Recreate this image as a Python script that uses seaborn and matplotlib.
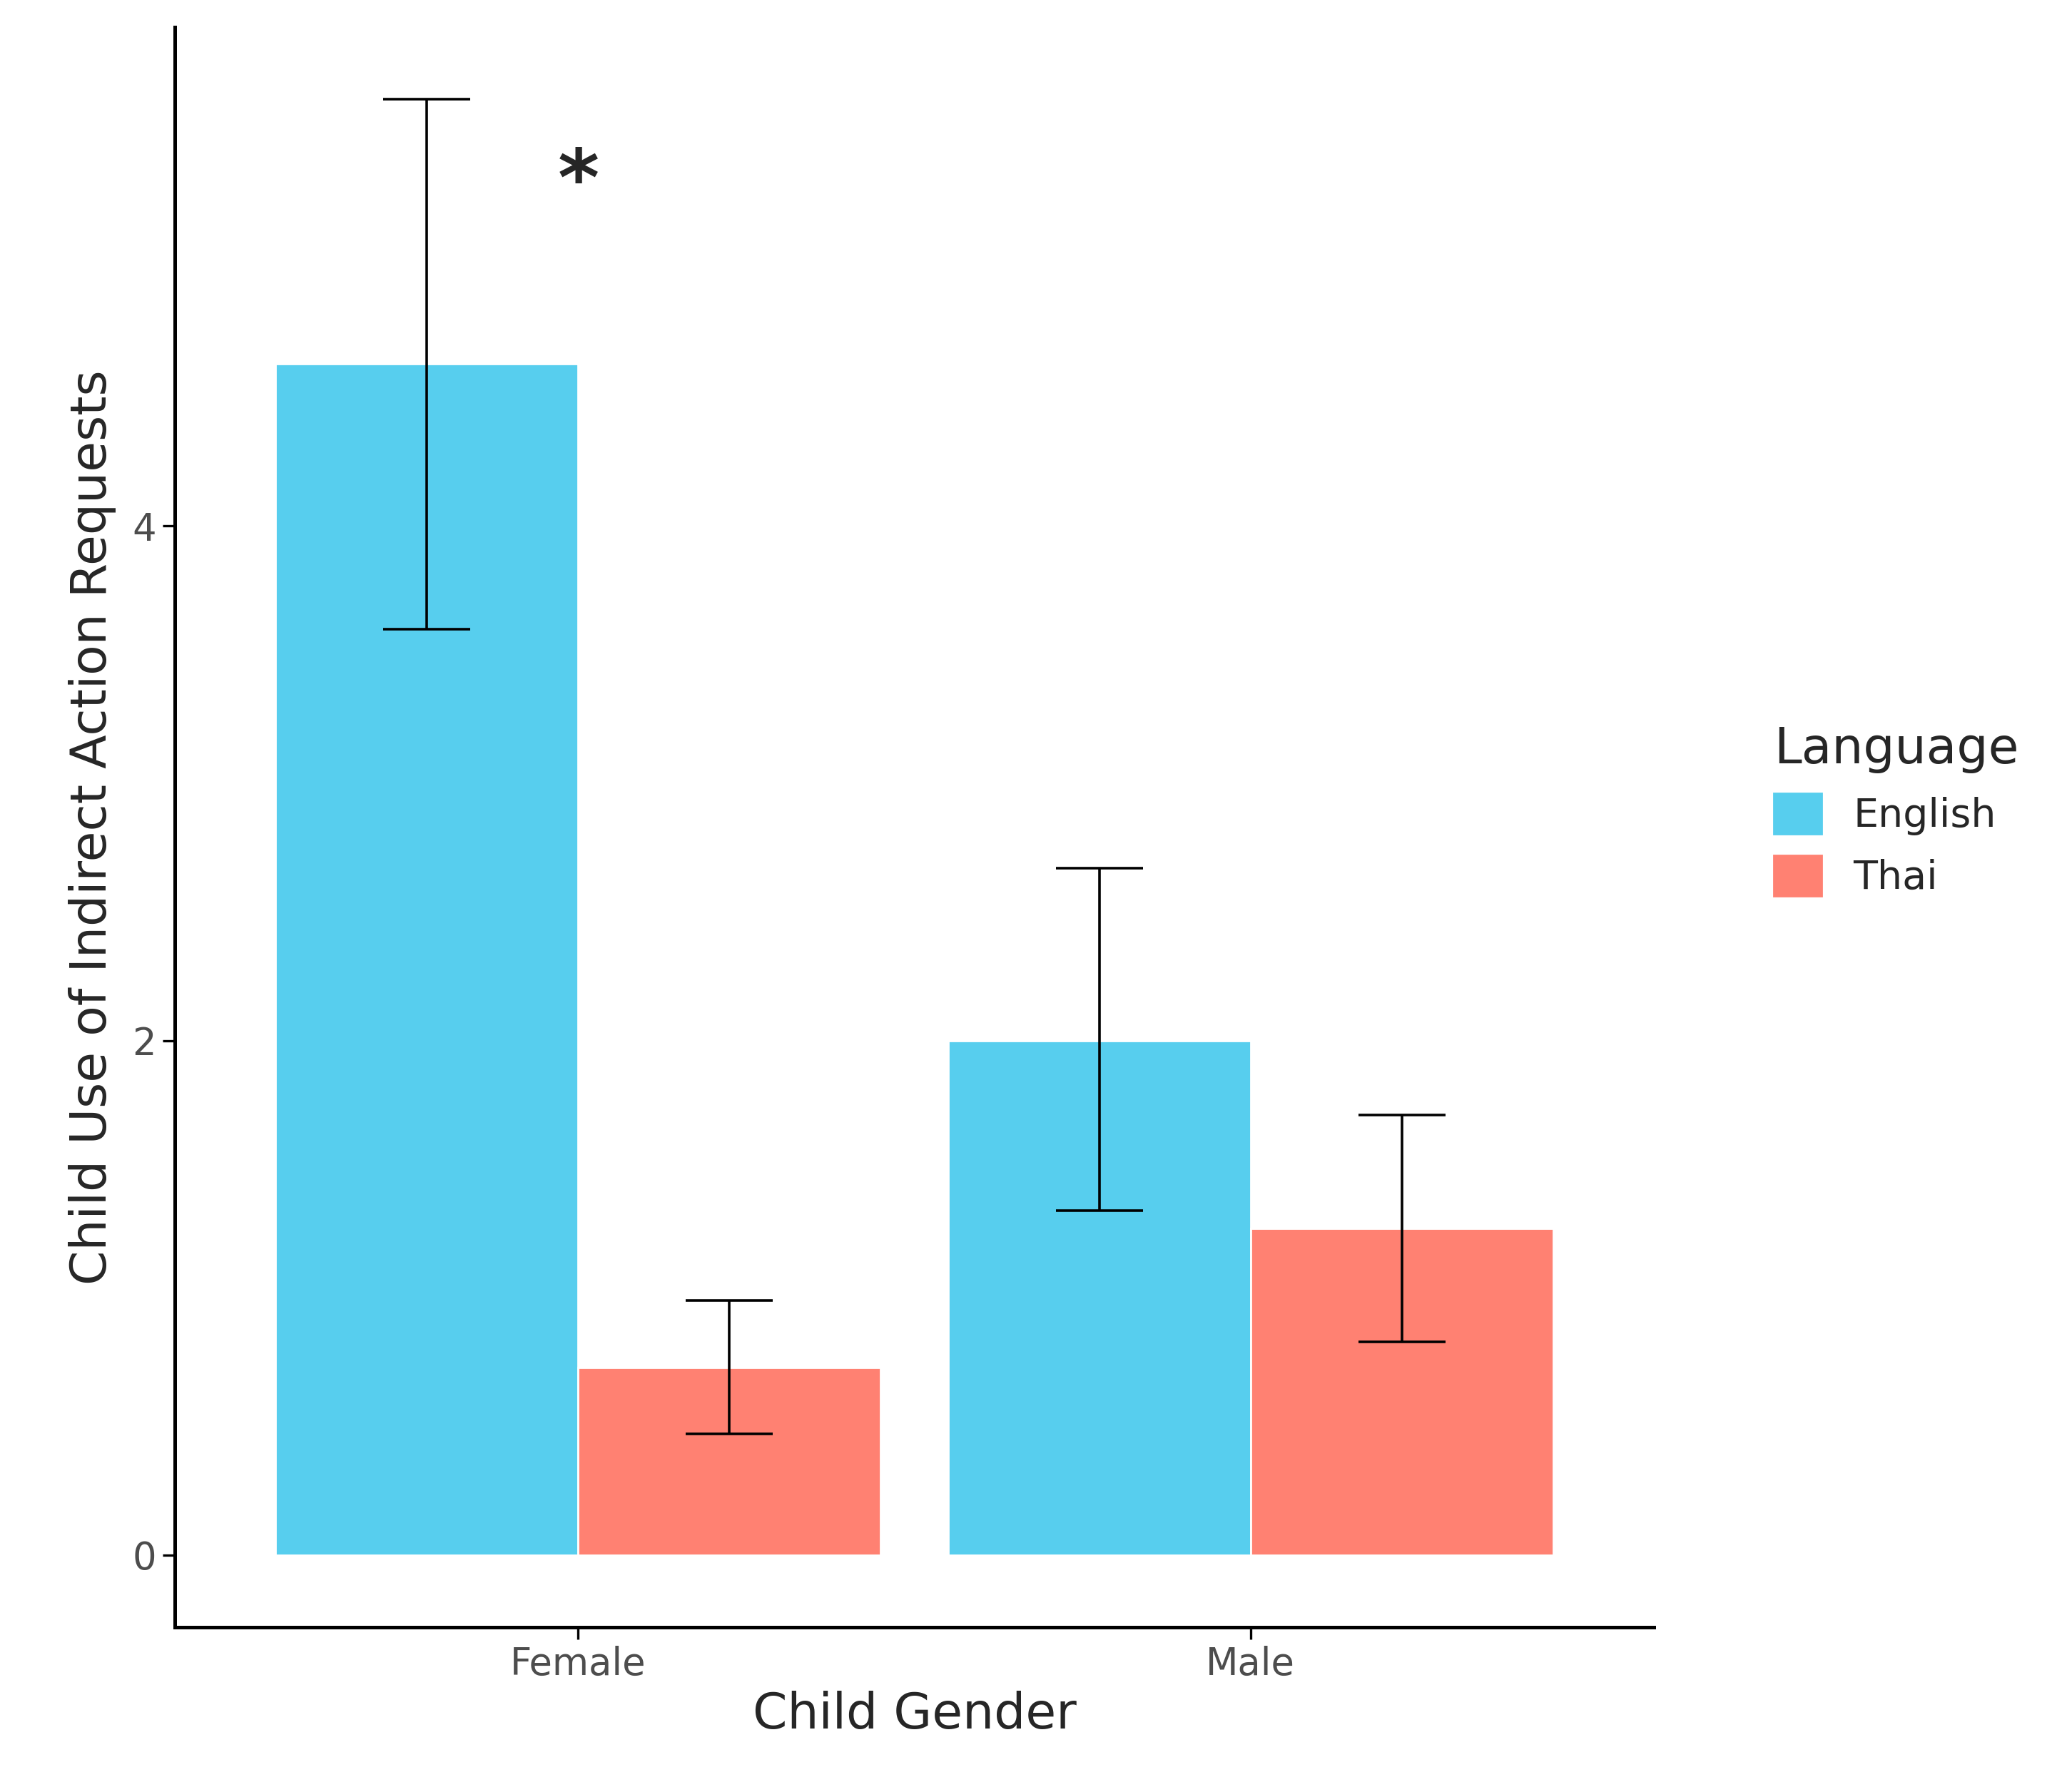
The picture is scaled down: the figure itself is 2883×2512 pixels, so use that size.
import matplotlib
matplotlib.use("Agg")
import matplotlib.pyplot as plt
import matplotlib.patches as mpatches
import seaborn as sns
import pandas as pd
import numpy as np

genders = ["Female", "Male"]
languages = ["English", "Thai"]
means = {"English": [4.63, 2.00], "Thai": [0.73, 1.27]}
err_low = {"English": [3.60, 1.34], "Thai": [0.47, 0.83]}
err_high = {"English": [5.66, 2.67], "Thai": [0.99, 1.71]}
colors = {"English": "#57CEEE", "Thai": "#FF8172"}
yticks = [0, 2, 4]

rows = []
for lang in languages:
    for i, g in enumerate(genders):
        rows.append({"gender": g, "language": lang, "value": means[lang][i],
                     "lo": err_low[lang][i], "hi": err_high[lang][i]})
df = pd.DataFrame(rows)

sns.set_style("white")
fig = plt.figure(figsize=(14.415, 12.56), dpi=200)
ax = fig.add_axes([0.085, 0.092, 0.719, 0.893])

sns.barplot(data=df, x="gender", y="value", hue="language", palette=colors,
            width=0.9, saturation=1, errorbar=None, ax=ax, legend=False)

# error bars at the bar centres
for lang, cont in zip(languages, ax.containers):
    sub = df[df.language == lang]
    for bar, (_, r) in zip(cont, sub.iterrows()):
        cx = bar.get_x() + bar.get_width() / 2
        ax.errorbar(cx, r.value, yerr=[[r.value - r.lo], [r.hi - r.value]],
                    fmt="none", ecolor="black", elinewidth=1.3, capsize=22, capthick=1.3)

ax.text(0, 5.33, "*", ha="center", va="center", fontsize=40, fontweight="bold")

ax.set_xlim(-0.6, 1.6)
ax.set_ylim(-0.28, 5.94)
ax.set_yticks(yticks)
ax.set_xlabel("Child Gender", fontsize=25, labelpad=4)
ax.set_ylabel("Child Use of Indirect Action Requests", fontsize=25, labelpad=8)
ax.tick_params(axis="both", labelsize=19, colors="#4D4D4D", length=6, width=1.2, left=True, bottom=True)
ax.tick_params(axis="both", color="black")
for s in ["top", "right"]:
    ax.spines[s].set_visible(False)
for s in ["left", "bottom"]:
    ax.spines[s].set_linewidth(1.8)
    ax.spines[s].set_color("black")

handles = [mpatches.Patch(color=colors[l], label=l) for l in languages]
leg = fig.legend(handles=handles, title="Language", loc="upper left",
                 bbox_to_anchor=(0.845, 0.615), frameon=False, fontsize=20,
                 title_fontsize=25, handlelength=1.2, handleheight=1.2, alignment="left")

fig.savefig("out.png", dpi=200)
